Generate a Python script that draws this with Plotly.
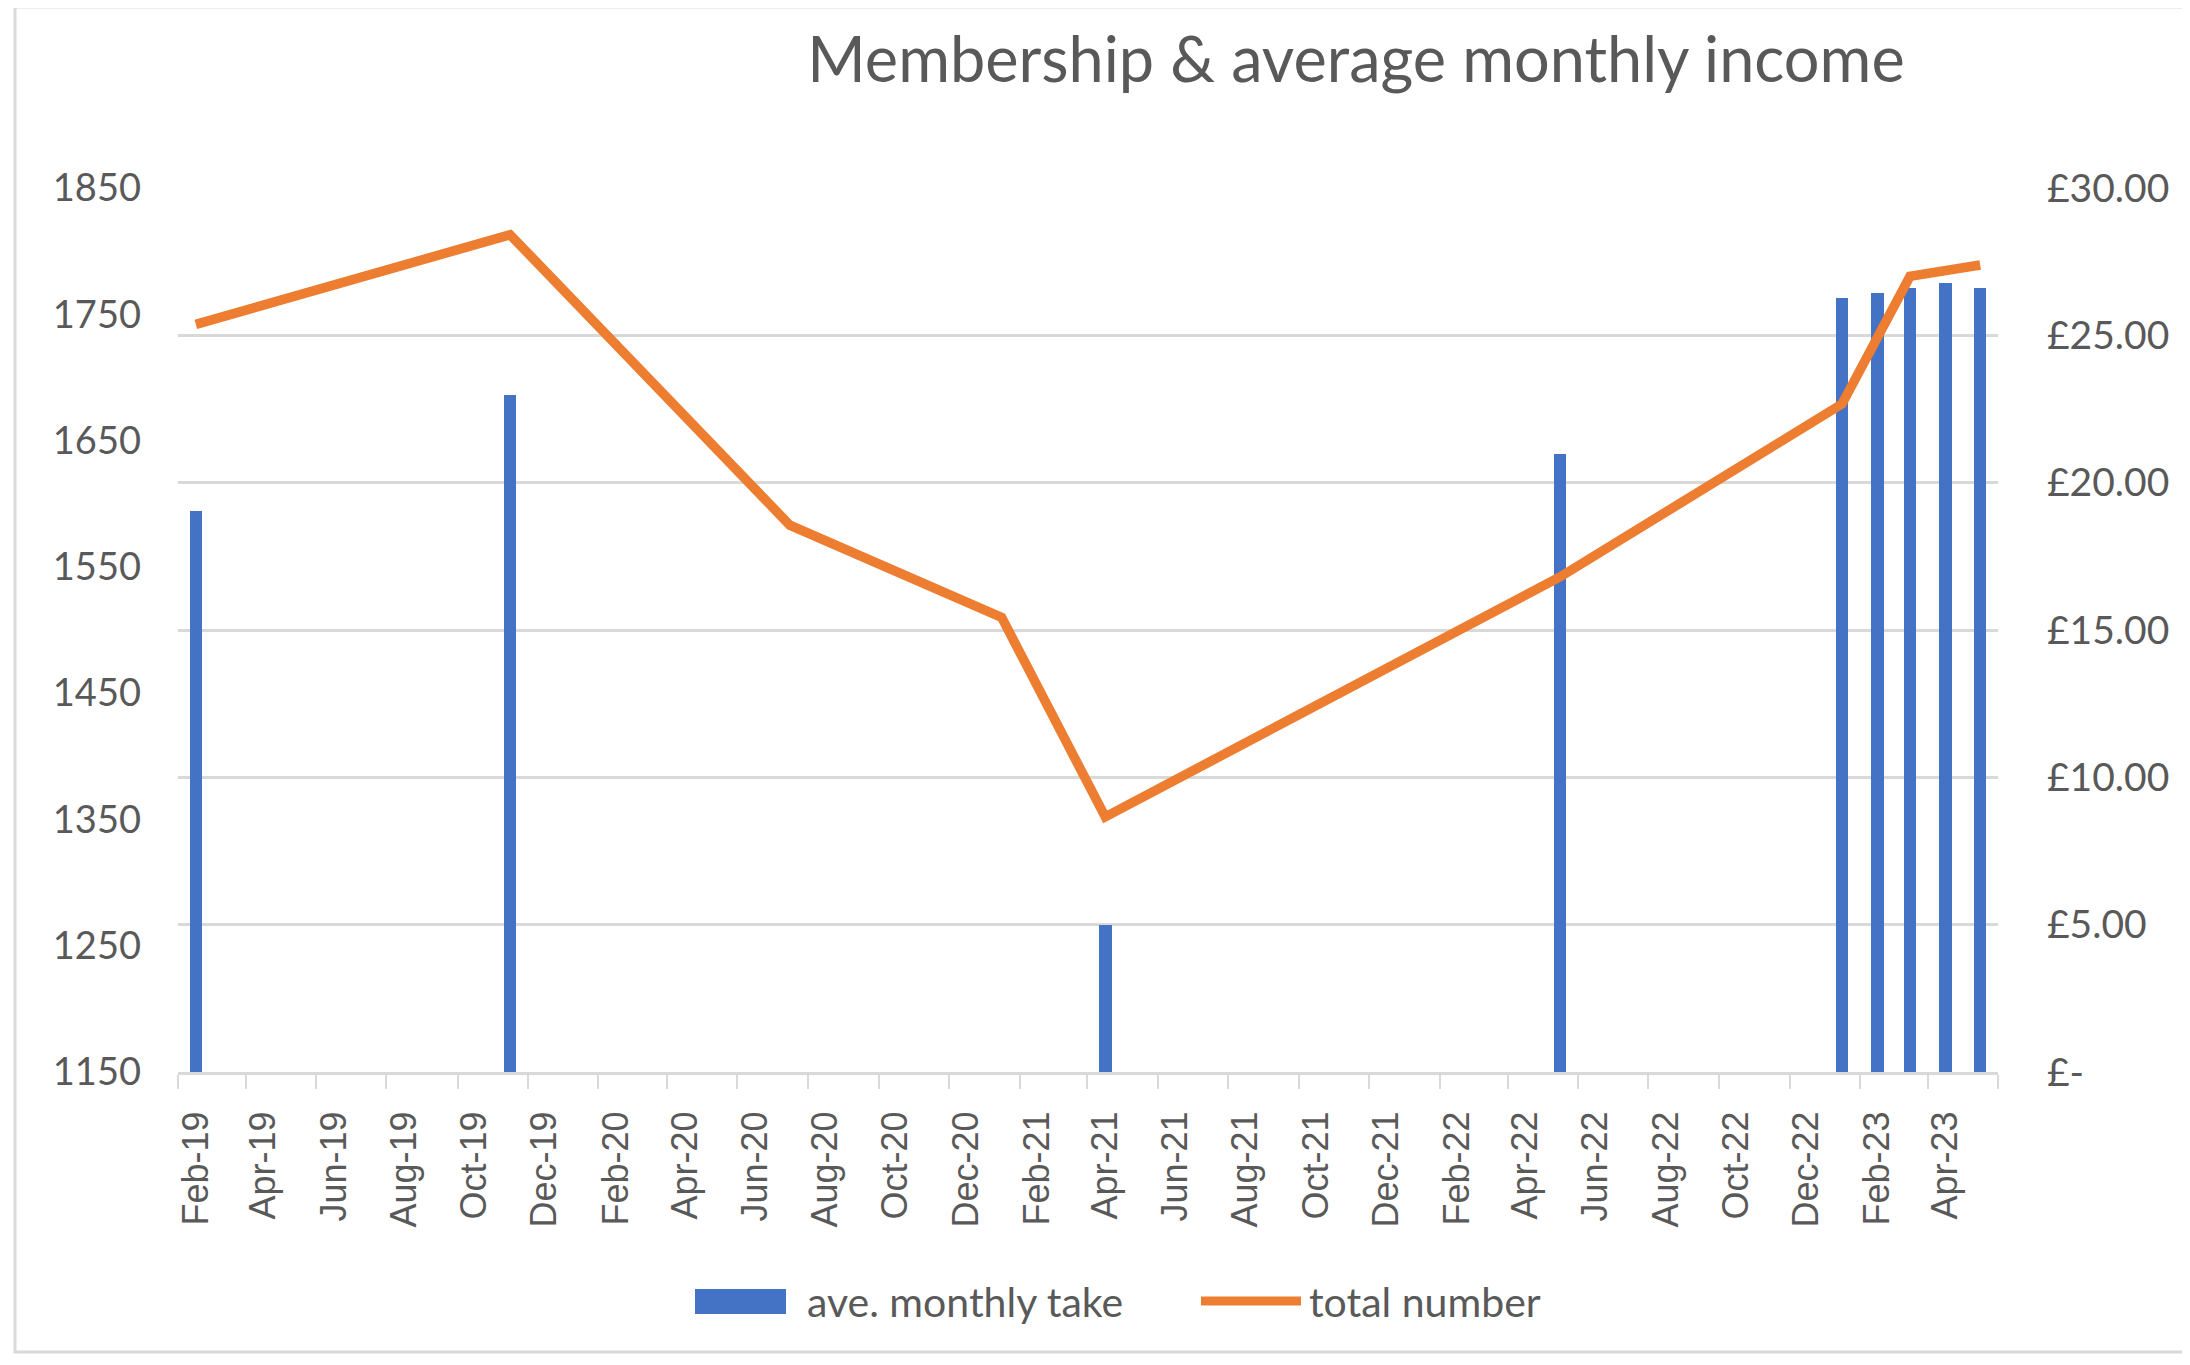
import plotly.graph_objects as go

# ---- data ----
bar_months = ["2019-02-01", "2019-11-01", "2021-04-01", "2022-05-01",
              "2023-01-01", "2023-02-01", "2023-03-01", "2023-04-01", "2023-05-01"]
ave_monthly_take = [19.03, 22.97, 5.00, 20.96, 26.28, 26.44, 26.60, 26.78, 26.62]

line_months = ["2019-02-01", "2019-11-01", "2020-07-01", "2021-01-01", "2021-04-01",
               "2022-05-01", "2023-01-01", "2023-03-01", "2023-05-01"]
total_number = [1742, 1813, 1583, 1510, 1352, 1542, 1679, 1780, 1789]

money_tickvals = [0, 5, 10, 15, 20, 25, 30]
money_ticktext = ["£-", "£5.00", "£10.00", "£15.00", "£20.00", "£25.00", "£30.00"]

title_text = "Membership & average monthly income"
legend_names = ["ave. monthly take", "total number"]

# ---- styling ----
OFF = 8  # page body margin of the html output
W, H = 2190 - OFF, 1365 - OFF
L, T = 178 - OFF, 188 - OFF
R, B = 192, 293
PW, PH = W - L - R, H - T - B
BLUE = "#4472C4"
ORANGE = "#ED7D31"
GRID = "#d9d9d9"
TXT = "#595959"
DAY_MS = 86400000


def px_x(px):
    # screen pixel -> paper fraction
    return (px - OFF - L) / PW


def px_y(py):
    return (H - B - (py - OFF)) / PH


fig = go.Figure()
fig.add_trace(go.Bar(
    x=bar_months, y=ave_monthly_take, name=legend_names[0],
    marker=dict(color=BLUE, line=dict(width=0)),
    width=11 * DAY_MS, yaxis="y", showlegend=False,
))
fig.add_trace(go.Scatter(
    x=line_months, y=total_number, name=legend_names[1],
    mode="lines", line=dict(color=ORANGE, width=9.5),
    yaxis="y2", showlegend=False,
))

fig.update_layout(
    width=W, height=H,
    margin=dict(l=L, r=R, t=T, b=B, pad=0),
    paper_bgcolor="white", plot_bgcolor="white",
    font=dict(family="Lato", color=TXT, size=38),
    title=dict(text=title_text, xref="container", yref="container",
               x=(1356 - OFF) / W, xanchor="center", y=1 - (60 - OFF) / H, yanchor="middle",
               font=dict(family="Lato", size=63, color=TXT)),
    xaxis=dict(
        type="date",
        range=["2019-01-16 12:00", "2023-05-16 12:00"],
        tick0="2019-02-01", dtick="M2", tickformat="%b-%y",
        tickangle=-90, ticks="", showgrid=False,
        tickfont=dict(family="Liberation Sans", size=36, color=TXT),
        ticklabelstandoff=22,
        showline=True, linecolor=GRID, linewidth=3,
        minor=dict(ticks="outside", tick0="2019-01-16 12:00", dtick="M2",
                   ticklen=14, tickwidth=2, tickcolor=GRID, showgrid=False),
        zeroline=False,
    ),
    yaxis=dict(
        side="right", range=[0, 30],
        tickvals=money_tickvals, ticktext=money_ticktext,
        showgrid=True, gridcolor=GRID, gridwidth=3,
        zeroline=False, ticks="", ticklabelstandoff=48,
        tickfont=dict(family="Lato", size=39, color=TXT),
    ),
    yaxis2=dict(
        side="left", overlaying="y", range=[1150, 1850],
        tick0=1150, dtick=100, showgrid=False, zeroline=False,
        ticks="", ticklabelstandoff=36,
        tickfont=dict(family="Lato", size=38, color=TXT),
    ),
    bargap=0,
)

# chart border
fig.add_shape(type="rect", xref="paper", yref="paper",
              x0=px_x(15), x1=px_x(2205), y0=px_y(1352), y1=px_y(7),
              line=dict(color=GRID, width=3), fillcolor="rgba(0,0,0,0)", layer="below")

# legend (custom, matching Excel swatches)
fig.add_shape(type="rect", xref="paper", yref="paper",
              x0=px_x(695), x1=px_x(786), y0=px_y(1314), y1=px_y(1289),
              line=dict(width=0), fillcolor=BLUE)
fig.add_shape(type="line", xref="paper", yref="paper",
              x0=px_x(1201), x1=px_x(1301), y0=px_y(1301), y1=px_y(1301),
              line=dict(color=ORANGE, width=9))
fig.add_annotation(text=legend_names[0], xref="paper", yref="paper",
                   x=px_x(805), y=px_y(1301), xanchor="left", yanchor="middle",
                   showarrow=False, font=dict(family="Lato", size=41, color=TXT))
fig.add_annotation(text=legend_names[1], xref="paper", yref="paper",
                   x=px_x(1307), y=px_y(1301), xanchor="left", yanchor="middle",
                   showarrow=False, font=dict(family="Lato", size=41, color=TXT))

fig.write_html("out.html")
